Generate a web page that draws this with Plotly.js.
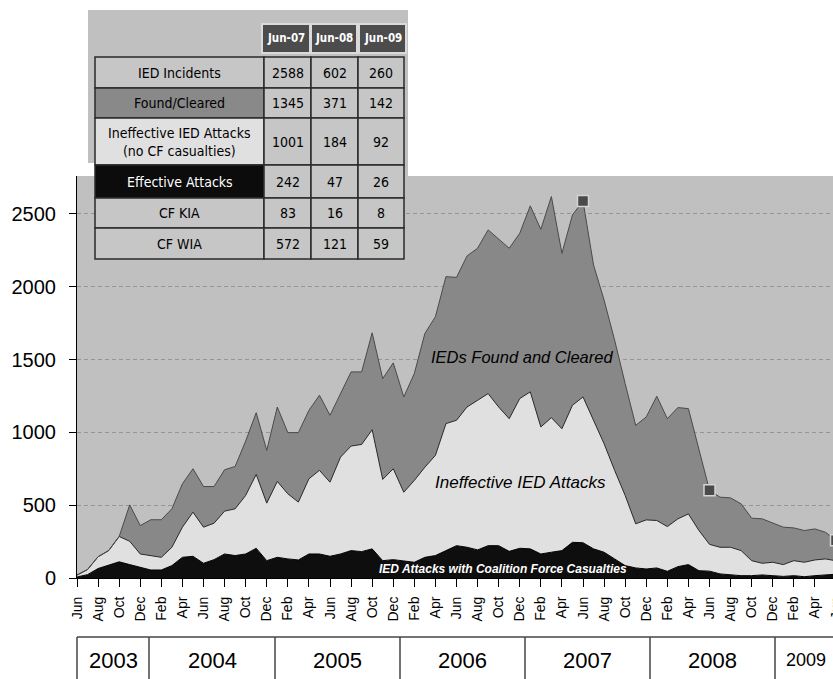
<!DOCTYPE html>
<html><head><meta charset="utf-8">
<script src="https://cdn.plot.ly/plotly-3.0.1.min.js"></script>
<style>html,body{margin:0;padding:0;overflow:hidden;background:#fff}</style>
</head><body><div id="chart" style="width:836px;height:679px"></div>
<script>
const months = ["Jun-03","Jul-03","Aug-03","Sep-03","Oct-03","Nov-03","Dec-03",
"Jan-04","Feb-04","Mar-04","Apr-04","May-04","Jun-04","Jul-04","Aug-04","Sep-04","Oct-04","Nov-04","Dec-04",
"Jan-05","Feb-05","Mar-05","Apr-05","May-05","Jun-05","Jul-05","Aug-05","Sep-05","Oct-05","Nov-05","Dec-05",
"Jan-06","Feb-06","Mar-06","Apr-06","May-06","Jun-06","Jul-06","Aug-06","Sep-06","Oct-06","Nov-06","Dec-06",
"Jan-07","Feb-07","Mar-07","Apr-07","May-07","Jun-07","Jul-07","Aug-07","Sep-07","Oct-07","Nov-07","Dec-07",
"Jan-08","Feb-08","Mar-08","Apr-08","May-08","Jun-08","Jul-08","Aug-08","Sep-08","Oct-08","Nov-08","Dec-08",
"Jan-09","Feb-09","Mar-09","Apr-09","May-09","Jun-09"];
const effective = [7,23,65,88,111, 92,73,55,55,85, 142,149,101,126,165, 154,165,204,119,142,
 131,124,165,165,149, 165,188,181,200,119, 126,119,108,142,154, 188,222,211,193,222,
 222,183,204,200,165, 177,188,245,242,200, 177,131,85,69,62, 69,46,78,92,50,
 47,28,21,16,16, 21,16,11,16,9, 16,21,26];
const ineffective = [13,35,81,100,174, 160,92,99,87,126, 207,303,248,250,294, 321,402,507,395,521,
 447,397,516,574,509, 665,718,736,818,558, 624,470,562,619,688, 872,861,963,1027,1044,
 952,911,1028,1078,872, 924,837,941,1001,883, 745,608,482,303,337, 326,307,328,348,276,
 184,183,190,172,103, 80,92,81,103,99, 108,110,92];
const foundCleared = [0,0,0,0,0, 250,195,246,258,264, 298,298,279,252,284, 291,373,424,362,511,
 420,477,470,516,459, 436,509,498,665,692, 727,654,734,918,952, 1009,981,1037,1044,1124,
 1152,1170,1135,1277,1357, 1518,1204,1307,1345,1066, 986,894,768,676,707, 853,741,764,723,550,
 371,344,339,321,292, 305,268,257,225,218, 213,183,142];
const yTicks = [0,500,1000,1500,2000,2500];
const years = ["2003","2004","2005","2006","2007","2008","2009"];
const tableCols = ["Jun-07","Jun-08","Jun-09"];
const tableRowLabels = ["IED Incidents","Found/Cleared","Ineffective IED Attacks<br>(no CF casualties)","Effective Attacks","CF KIA","CF WIA"];
const incidents = [2588,602,260];
const foundRow = [1345,371,142];
const ineffRow = [1001,184,92];
const effRow = [242,47,26];
const kiaRow = [83,16,8];
const wiaRow = [572,121,59];
const tableValues = [incidents, foundRow, ineffRow, effRow, kiaRow, wiaRow];

// pixel helpers
const W = 836, H = 679, L = 77, R = 836, T = 176, B = 578;
const px = x => (x - L) / (R - L);
const py = y => (B - y) / (B - T);
const narrow = '"Liberation Sans Narrow","Arial Narrow","DejaVu Sans Condensed",sans-serif';
const arial = '"Liberation Sans",Arial,sans-serif';

const shapes = [];
const annotations = [];
function rect(x0,y0,x1,y1,fill,lc,lw){
  shapes.push({type:'rect',xref:'paper',yref:'paper',x0:px(x0),x1:px(x1),y0:py(y1),y1:py(y0),
    fillcolor:fill,line:{color:lc||fill,width:lw===undefined?0:lw},layer:'above'});
}
function line(x0,y0,x1,y1,c,w){
  shapes.push({type:'line',xref:'paper',yref:'paper',x0:px(x0),x1:px(x1),y0:py(y0),y1:py(y1),
    line:{color:c,width:w},layer:'above'});
}
function text(x,y,t,size,color,family,extra){
  annotations.push(Object.assign({xref:'paper',yref:'paper',x:px(x),y:py(y),text:t,showarrow:false,
    xanchor:'center',yanchor:'middle',font:{size:size,color:color,family:family}},extra||{}));
}

// table backdrop
rect(88,10,408,163,'#c0c0c0');
rect(95,163,408,176,'#c0c0c0');
// header cells
const hdrX = [[262,310],[311,357],[359,406]];
hdrX.forEach((c,i)=>{
  rect(c[0],24,c[1],53,'#4c4c4c','#dadada',2);
  text((c[0]+c[1])/2,38.5,'<b>'+tableCols[i]+'</b>',11.5,'#fff',narrow);
});
// body
const rowY = [57,88,118,165,198,228,259];
const colX = [95,264,311,358,404];
const labelFill = ['#c6c6c6','#898989','#e0e0e0','#0c0c0c','#c6c6c6','#c6c6c6'];
const labelColor = ['#000','#000','#000','#fff','#000','#000'];
for(let r=0;r<6;r++){
  rect(colX[0],rowY[r],colX[1],rowY[r+1],labelFill[r],'#2a2a2a',1.5);
  text((colX[0]+colX[1])/2,(rowY[r]+rowY[r+1])/2,tableRowLabels[r],14,labelColor[r],narrow);
  for(let c=0;c<3;c++){
    rect(colX[c+1],rowY[r],colX[c+2],rowY[r+1],'#c6c6c6','#2a2a2a',1.5);
    text((colX[c+1]+colX[c+2])/2,(rowY[r]+rowY[r+1])/2,String(tableValues[r][c]),14,'#000',narrow);
  }
}
// year boxes
const yearEdges = [77,149,275,400,525,650,775,836];
line(77,637,836,637,'#444',1.5);
for(let i=0;i<yearEdges.length-1;i++){
  line(yearEdges[i],637,yearEdges[i],679,'#444',1.5);
  text((yearEdges[i]+yearEdges[i+1])/2,660,years[i],i===6?18:22,'#000',arial);
}
// chart labels
text(522,357,'<i>IEDs Found and Cleared</i>',16.5,'#000',arial);
text(520,482,'<i>Ineffective IED Attacks</i>',17,'#000',arial);
text(503,569,'<b><i>IED Attacks with Coalition Force Casualties</i></b>',12,'#fff',arial);

const tickVals = months.filter((m,i)=>i%2===0);
const tickText = tickVals.map(m=>m.split('-')[0]);

const traces = [
 {x:months,y:effective,type:'scatter',mode:'lines',stackgroup:'a',fillcolor:'#0e0e0e',line:{color:'#000',width:1}},
 {x:months,y:ineffective,type:'scatter',mode:'lines',stackgroup:'a',fillcolor:'#e0e0e0',line:{color:'#2a2a2a',width:1}},
 {x:months,y:foundCleared,type:'scatter',mode:'lines',stackgroup:'a',fillcolor:'#888888',line:{color:'#4a4a4a',width:1}},
 {x:tableCols,y:incidents,type:'scatter',mode:'markers',cliponaxis:false,
  marker:{symbol:'square',size:11,color:'#4a4a4a',line:{color:'#d4d4d4',width:1.5}}}
];

const layout = {
  width:W,height:H,margin:{l:L,r:W-R,t:T,b:H-B,pad:0},
  paper_bgcolor:'#ffffff',plot_bgcolor:'#c0c0c0',showlegend:false,hovermode:false,
  xaxis:{type:'category',categoryarray:months,range:[0,72],tickvals:tickVals,ticktext:tickText,
    tickangle:-90,ticks:'outside',ticklen:8,tickcolor:'#000',tickwidth:1,showline:true,linecolor:'#000',linewidth:1,
    showgrid:false,zeroline:false,tickfont:{family:arial,size:14,color:'#000'},ticklabelstandoff:4},
  yaxis:{range:[0,2760],tickvals:yTicks,ticks:'outside',ticklen:7,tickcolor:'#000',showline:true,linecolor:'#000',linewidth:1,
    showgrid:true,gridcolor:'#959595',griddash:'4px,3px',gridwidth:1,zeroline:false,
    tickfont:{family:arial,size:20,color:'#000'},ticklabelstandoff:9},
  shapes:shapes,annotations:annotations
};
Plotly.newPlot('chart',traces,layout,{displayModeBar:false,staticPlot:true});
</script></body></html>
